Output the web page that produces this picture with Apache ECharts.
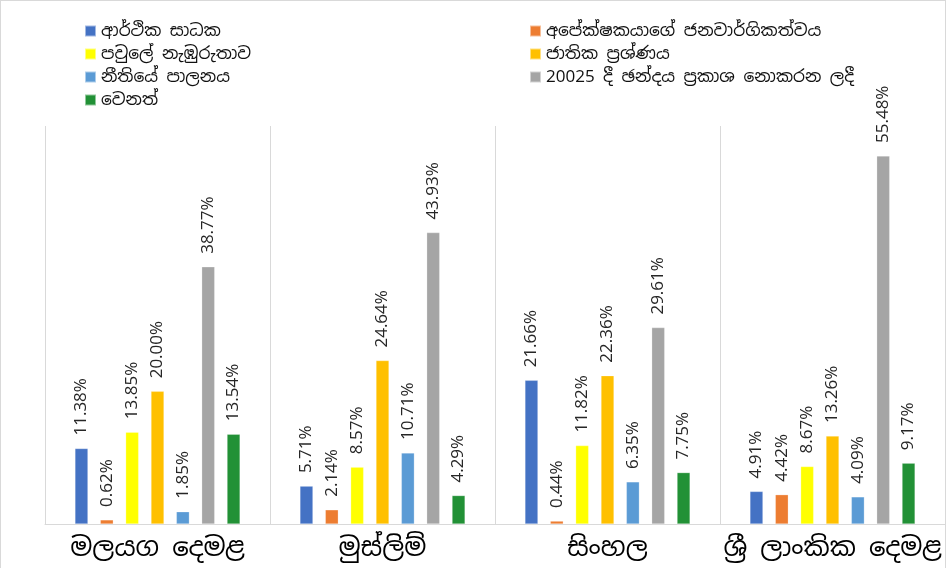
<!DOCTYPE html>
<html>
<head>
<meta charset="utf-8">
<script src="https://cdn.jsdelivr.net/npm/echarts@6/dist/echarts.min.js"></script>
<style>
  html, body { margin: 0; padding: 0; background: #fff; }
  #chart { width: 946px; height: 568px; box-sizing: border-box; border: 1px solid #d9d9d9; border-bottom: none; }
</style>
</head>
<body>
<div id="chart"></div>
<script>
// categories and series values (percent)
const categories = ['මලයග දෙමළ', 'මුස්ලිම්', 'සිංහල', 'ශ්‍රී ලාංකික දෙමළ'];
const seriesNames = [
  'ආර්ථික සාධක',
  'අපේක්ෂකයාගේ ජනවාර්ගිකත්වය',
  'පවුලේ නැඹුරුතාව',
  'ජාතික ප්‍රශ්ණය',
  'නීතියේ පාලනය',
  '20025 දී ඡන්දය ප්‍රකාශ නොකරන ලදී',
  'වෙනත්'
];
const economic = [11.38, 5.71, 21.66, 4.91];
const ethnicity = [0.62, 2.14, 0.44, 4.42];
const family = [13.85, 8.57, 11.82, 8.67];
const national = [20.00, 24.64, 22.36, 13.26];
const ruleOfLaw = [1.85, 10.71, 6.35, 4.09];
const notVoted = [38.77, 43.93, 29.61, 55.48];
const other = [13.54, 4.29, 7.75, 9.17];

const seriesData = [economic, ethnicity, family, national, ruleOfLaw, notVoted, other];
const colors = ['#4472C4', '#ED7D31', '#FFFF00', '#FFC000', '#5B9BD5', '#A5A5A5', '#229136'];

const labelFont = "'Open Sans', 'Noto Sans', sans-serif";
const sinhalaFont = "'Noto Sans Sinhala', 'Iskoola Pota', 'Noto Sans', sans-serif";

const chart = echarts.init(document.getElementById('chart'));

const legendText = {
  color: '#111',
  fontSize: 17,
  lineHeight: 18,
  fontFamily: sinhalaFont
};

chart.setOption({
  animation: false,
  color: colors,
  legend: [
    {
      orient: 'vertical',
      left: 78,
      top: 16,
      itemWidth: 11,
      itemHeight: 11,
      itemGap: 5,
      icon: 'rect',
      data: [seriesNames[0], seriesNames[2], seriesNames[4], seriesNames[6]],
      textStyle: legendText
    },
    {
      orient: 'vertical',
      left: 523,
      top: 16,
      itemWidth: 11,
      itemHeight: 11,
      itemGap: 5,
      icon: 'rect',
      data: [seriesNames[1], seriesNames[3], seriesNames[5]],
      textStyle: legendText
    }
  ],
  grid: {
    left: 44,
    right: 0,
    top: 125,
    bottom: 44
  },
  xAxis: {
    type: 'category',
    data: categories,
    axisLine: { lineStyle: { color: '#d9d9d9', width: 1 } },
    axisTick: { show: false },
    splitLine: { show: true, interval: 0, lineStyle: { color: '#d9d9d9' } },
    axisLabel: {
      interval: 0,
      hideOverlap: false,
      color: '#000',
      fontSize: 26,
      fontFamily: sinhalaFont,
      margin: 12,
      overflow: 'none'
    }
  },
  yAxis: {
    type: 'value',
    min: 0,
    max: 60,
    show: false
  },
  series: seriesData.map((values, i) => ({
    name: seriesNames[i],
    type: 'bar',
    data: values,
    barWidth: 13,
    barGap: '95%',
    itemStyle: {
      color: colors[i],
      borderColor: 'rgba(255,255,255,0.5)',
      borderWidth: 0.5
    },
    label: {
      show: true,
      position: 'top',
      rotate: 90,
      align: 'left',
      verticalAlign: 'middle',
      distance: 13,
      color: '#262626',
      fontSize: 17,
      fontFamily: labelFont,
      formatter: p => p.value.toFixed(2) + '%'
    }
  }))
});

window.addEventListener('resize', () => chart.resize());
</script>
</body>
</html>
